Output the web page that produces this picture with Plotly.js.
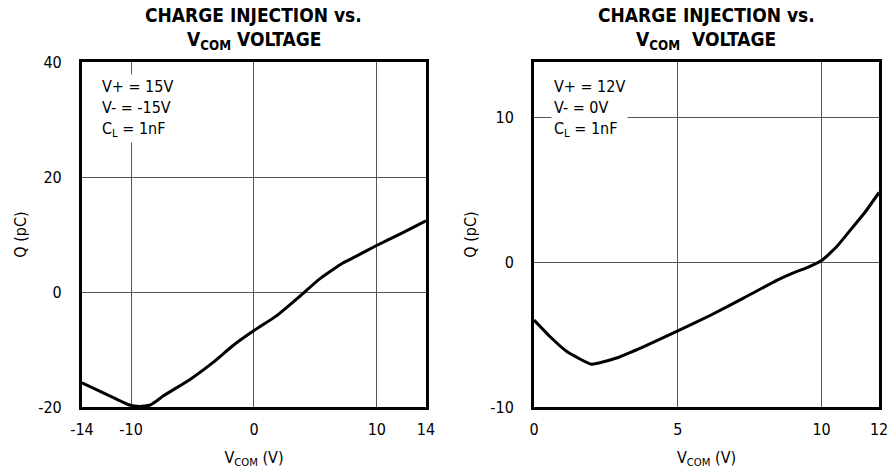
<!DOCTYPE html>
<html>
<head>
<meta charset="utf-8">
<script src="https://cdn.plot.ly/plotly-3.0.1.min.js"></script>
<style>html,body{margin:0;padding:0;background:#fff;}#chart{width:888px;height:473px;}</style>
</head>
<body>
<div id="chart"></div>
<script>
// Left chart: V+ = 15V, V- = -15V
var leftVcom = [-14, -12, -10.2, -9.3, -8.5, -7.9, -7.4, -5.2, -3.3, -1.7, 0, 1.8, 3.7, 5.3, 7.2, 8.3, 9.9, 12, 14];
var leftQ    = [-15.8, -17.8, -19.6, -19.9, -19.7, -18.9, -18.1, -15.2, -12.2, -9.3, -6.7, -4.2, -0.8, 2.2, 5.0, 6.2, 8.0, 10.2, 12.4];
var leftXTicks = [-14, -10, 0, 10, 14];
var leftYTicks = [-20, 0, 20, 40];

// Right chart: V+ = 12V, V- = 0V
var rightVcom = [0, 0.56, 1.14, 2.0, 2.9, 3.8, 5.0, 6.14, 7.3, 8.46, 9.04, 9.5, 10.0, 10.5, 11.0, 11.5, 12];
var rightQ    = [-4.0, -5.15, -6.17, -7.05, -6.6, -5.85, -4.75, -3.67, -2.47, -1.25, -0.73, -0.39, 0.1, 1.0, 2.2, 3.4, 4.8];
var rightXTicks = [0, 5, 10, 12];
var rightYTicks = [-10, 0, 10];

var FONT = "'DejaVu Sans Condensed', 'Liberation Sans Narrow', 'Arial Narrow', sans-serif";

var traces = [
  {x: leftVcom, y: leftQ, xaxis: 'x', yaxis: 'y', mode: 'lines', line: {color: '#000', width: 3, shape: 'spline', smoothing: 0.4}, hoverinfo: 'skip'},
  {x: rightVcom, y: rightQ, xaxis: 'x2', yaxis: 'y2', mode: 'lines', line: {color: '#000', width: 3, shape: 'spline', smoothing: 0.4}, hoverinfo: 'skip'}
];

function axisBase(extra) {
  var a = {
    showline: true, linecolor: '#000', linewidth: 3, mirror: true,
    showgrid: true, gridcolor: '#555', gridwidth: 1,
    zeroline: false, ticks: '', tickfont: {family: FONT, size: 16, color: '#000'},
    ticklabeloverflow: 'allow', ticklabelstandoff: 6,
    fixedrange: true
  };
  for (var k in extra) a[k] = extra[k];
  return a;
}

var layout = {
  width: 888, height: 473,
  margin: {l: 0, r: 0, t: 0, b: 0},
  paper_bgcolor: '#fff', plot_bgcolor: '#fff',
  showlegend: false,
  font: {family: FONT, color: '#000'},
  xaxis: axisBase({domain: [0.0923, 0.4797], range: [-14, 14], tickvals: leftXTicks, ticktext: leftXTicks.map(String), anchor: 'y',
    title: {text: 'V<sub>COM</sub> (V)', font: {family: FONT, size: 16, color: '#000'}, standoff: 14}}),
  yaxis: axisBase({domain: [0.1395, 0.8689], range: [-20, 40], tickvals: leftYTicks, ticktext: leftYTicks.map(String), anchor: 'x',
    ticklabelstandoff: 14,
    title: {text: 'Q (pC)', font: {family: FONT, size: 16, color: '#000'}, standoff: 8}}),
  xaxis2: axisBase({domain: [0.6014, 0.9899], range: [0, 12], tickvals: rightXTicks, ticktext: rightXTicks.map(String), anchor: 'y2',
    title: {text: 'V<sub>COM</sub> (V)', font: {family: FONT, size: 16, color: '#000'}, standoff: 14}}),
  yaxis2: axisBase({domain: [0.1395, 0.8689], range: [-10, 13.8], tickvals: rightYTicks, ticktext: rightYTicks.map(String), anchor: 'x2',
    ticklabelstandoff: 14,
    title: {text: 'Q (pC)', font: {family: FONT, size: 16, color: '#000'}, standoff: 10}}),
  annotations: [
    {xref: 'paper', yref: 'paper', x: 0.286, y: 1 - 15/473, text: '<b>CHARGE INJECTION vs.</b>', showarrow: false,
     font: {family: FONT, size: 19, color: '#000'}, xanchor: 'center', yanchor: 'middle'},
    {xref: 'paper', yref: 'paper', x: 0.286, y: 1 - 41/473, text: '<b>V<sub>COM</sub> VOLTAGE</b>', showarrow: false,
     font: {family: FONT, size: 19, color: '#000'}, xanchor: 'center', yanchor: 'middle'},
    {xref: 'paper', yref: 'paper', x: 0.7956, y: 1 - 15/473, text: '<b>CHARGE INJECTION vs.</b>', showarrow: false,
     font: {family: FONT, size: 19, color: '#000'}, xanchor: 'center', yanchor: 'middle'},
    {xref: 'paper', yref: 'paper', x: 0.7956, y: 1 - 41/473, text: '<b>V<sub>COM</sub>  VOLTAGE</b>', showarrow: false,
     font: {family: FONT, size: 19, color: '#000'}, xanchor: 'center', yanchor: 'middle'},
    {xref: 'x', yref: 'y', x: -12.6, y: 38, text: 'V+ = 15V<br>V- = -15V<br>C<sub>L</sub> = 1nF', showarrow: false, align: 'left',
     font: {family: FONT, size: 16, color: '#000'}, xanchor: 'left', yanchor: 'top', bgcolor: '#fff', borderpad: 2},
    {xref: 'x2', yref: 'y2', x: 0.6, y: 13, text: 'V+ = 12V<br>V- = 0V<br>C<sub>L</sub> = 1nF', showarrow: false, align: 'left',
     font: {family: FONT, size: 16, color: '#000'}, xanchor: 'left', yanchor: 'top', bgcolor: '#fff', borderpad: 2}
  ]
};

Plotly.newPlot('chart', traces, layout, {displayModeBar: false, staticPlot: true});
</script>
</body>
</html>
